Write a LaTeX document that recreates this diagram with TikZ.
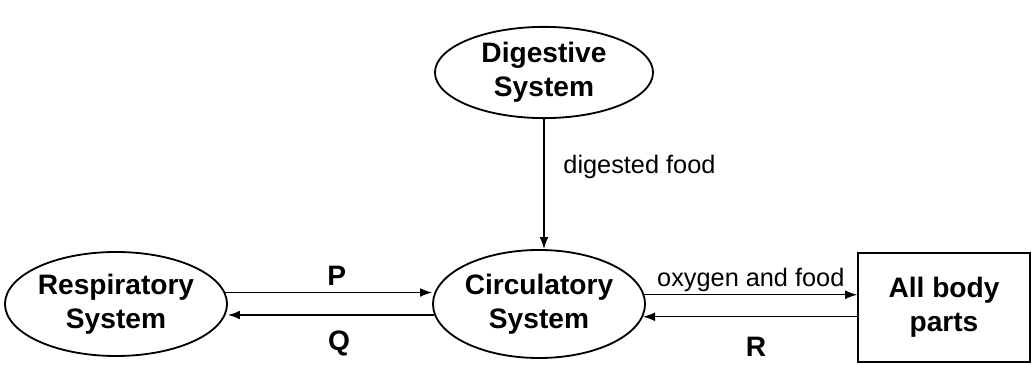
\documentclass[tikz,border=0pt]{standalone}
\usepackage{fontspec}
\setmainfont{Liberation Sans}
\usetikzlibrary{shapes.geometric,arrows.meta}
\newcommand{\sysfont}{\fontsize{20}{24}\selectfont\bfseries}
\newcommand{\lblfont}{\fontsize{18}{21}\selectfont}
\tikzset{
  sys/.style={ellipse,draw,line width=1.3pt,inner sep=0pt,align=center,font=\sysfont},
  parts/.style={rectangle,draw,line width=1.1pt,inner sep=0pt,align=center,font=\sysfont},
  flow/.style={-{Latex[length=3mm,width=2.2mm]},line width=0.9pt},
  lbl/.style={inner sep=2pt,font=\lblfont},
  letter/.style={inner sep=2pt,font=\sysfont},
}
\begin{document}
\begin{tikzpicture}[x=0.025cm,y=-0.025cm]
      \useasboundingbox (0,0) rectangle (1034,365);
      \node[sys,minimum width=5.45cm,minimum height=2.28cm] (dig) at (544,72.5) {Digestive\\System};
      \node[sys,minimum width=5.55cm,minimum height=2.6cm] (resp) at (116,304) {Respiratory\\System};
      \node[sys,minimum width=5.3cm,minimum height=2.7cm] (circ) at (539,304) {Circulatory\\System};
      \node[parts,minimum width=4.3cm,minimum height=2.72cm] (body) at (944,307.5) {All body\\parts};
      \draw[flow] (dig.south) to node[lbl,right=0.4cm,pos=0.37] (food) {digested food} (dig.south |- circ.north);
      \draw[flow] (resp.6) to node[letter,above=0.08cm,midway,xshift=0.2cm] (p) {P} (resp.6 -| circ.west);
      \draw[flow] (circ.186) to node[letter,below=0.3cm,midway,xshift=0.2cm] (q) {Q} (circ.186 -| resp.east);
      \draw[flow] (circ.5) to node[lbl,above=0cm,midway] (oxy) {oxygen and food} (circ.5 -| body.west);
      \draw[flow] (body.west |- circ.-7) to node[letter,below=0.43cm,midway,xshift=0.15cm] (r) {R} (circ.-7);
    \end{tikzpicture}
\end{document}
